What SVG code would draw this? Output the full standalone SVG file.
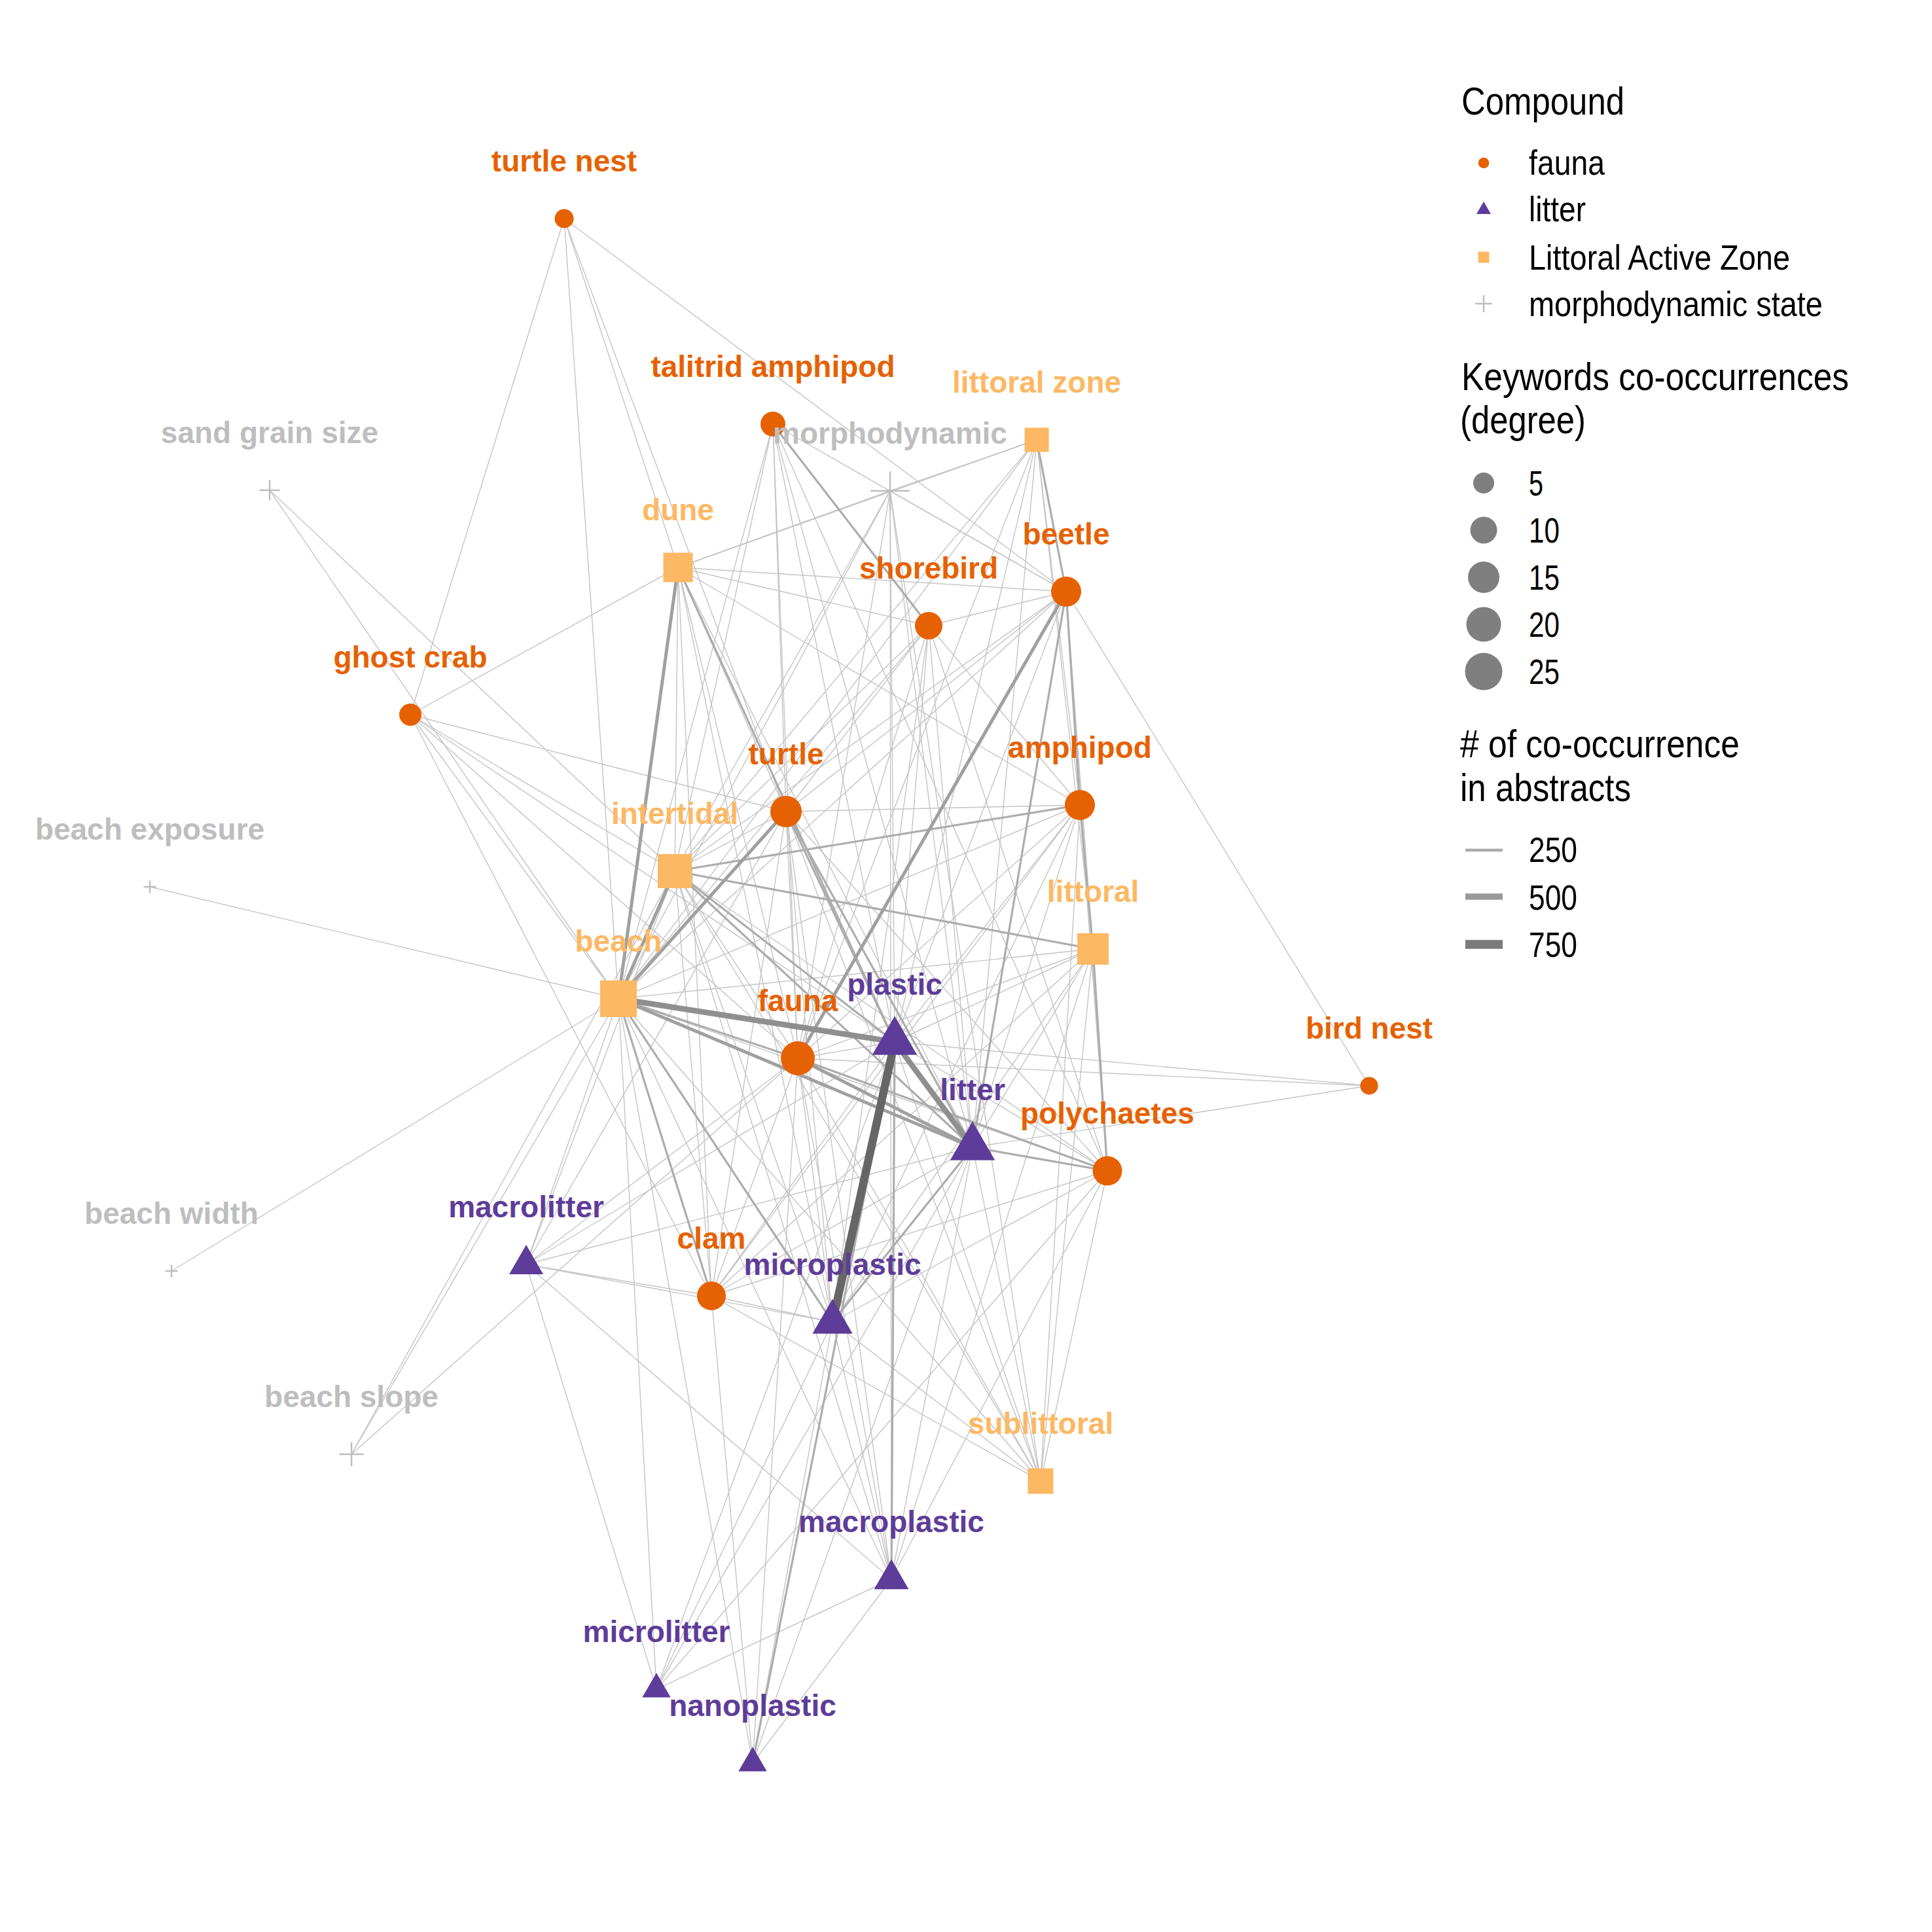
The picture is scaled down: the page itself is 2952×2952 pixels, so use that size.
<svg xmlns="http://www.w3.org/2000/svg" width="2952" height="2952" viewBox="0 0 2952 2952">
<style>
.lbl{font-family:"Liberation Sans",Arial,Helvetica,sans-serif;font-weight:bold;font-size:46px;text-anchor:middle}
.leg{font-family:"Liberation Sans",Arial,Helvetica,sans-serif;fill:#000}
.lt{font-size:60px}
.li{font-size:54px}
.cf{fill:#E66101}
.cl{fill:#5E3C99}
.cz{fill:#FDB863}
.cm{fill:#BEBEBE}
.pm{stroke:#BEBEBE;stroke-width:2.5;fill:none}
.e1{stroke:#C4C4C4;stroke-width:1.4}
.e2{stroke:#ADADAD;stroke-width:3.2}
.e3{stroke:#A0A0A0;stroke-width:5}
.e4{stroke:#8F8F8F;stroke-width:8.5}
.e5{stroke:#666666;stroke-width:12.5}
.dg{fill:#7F7F7F}
</style>
<rect width="2952" height="2952" fill="#FFFFFF"/>
<g id="connectors" fill="none">
<line class="e1" x1="862" y1="334" x2="627" y2="1092"/>
<line class="e1" x1="862" y1="334" x2="945" y2="1526"/>
<line class="e1" x1="862" y1="334" x2="1036" y2="867"/>
<line class="e1" x1="862" y1="334" x2="1201" y2="1240"/>
<line class="e1" x1="862" y1="334" x2="1629" y2="904"/>
<line class="e1" x1="412" y1="749" x2="1031" y2="1331"/>
<line class="e1" x1="412" y1="749" x2="945" y2="1526"/>
<line class="e1" x1="229" y1="1355" x2="945" y2="1526"/>
<line class="e1" x1="262" y1="1942" x2="945" y2="1526"/>
<line class="e1" x1="537" y1="2222" x2="945" y2="1526"/>
<line class="e1" x1="537" y1="2222" x2="1031" y2="1331"/>
<line class="e1" x1="537" y1="2222" x2="1219" y2="1617"/>
<line class="e1" x1="2092" y1="1659" x2="1629" y2="904"/>
<line class="e1" x1="2092" y1="1659" x2="1367" y2="1592"/>
<line class="e1" x1="2092" y1="1659" x2="1219" y2="1617"/>
<line class="e1" x1="2092" y1="1659" x2="1486" y2="1753"/>
<line class="e1" x1="627" y1="1092" x2="1036" y2="867"/>
<line class="e1" x1="627" y1="1092" x2="1201" y2="1240"/>
<line class="e1" x1="627" y1="1092" x2="1031" y2="1331"/>
<line class="e1" x1="627" y1="1092" x2="1367" y2="1592"/>
<line class="e1" x1="627" y1="1092" x2="1219" y2="1617"/>
<line class="e1" x1="627" y1="1092" x2="1087" y2="1980"/>
<line class="e1" x1="627" y1="1092" x2="945" y2="1526"/>
<line class="e1" x1="1181" y1="648" x2="1629" y2="904"/>
<line class="e1" x1="1181" y1="648" x2="1031" y2="1331"/>
<line class="e1" x1="1181" y1="648" x2="945" y2="1526"/>
<line class="e1" x1="1181" y1="648" x2="1201" y2="1240"/>
<line class="e1" x1="1181" y1="648" x2="1219" y2="1617"/>
<line class="e1" x1="1181" y1="648" x2="1367" y2="1592"/>
<line class="e1" x1="1181" y1="648" x2="1486" y2="1753"/>
<line class="e1" x1="1181" y1="648" x2="1692" y2="1789"/>
<line class="e1" x1="1360" y1="750" x2="1584" y2="672"/>
<line class="e1" x1="1360" y1="750" x2="1629" y2="904"/>
<line class="e1" x1="1360" y1="750" x2="945" y2="1526"/>
<line class="e1" x1="1360" y1="750" x2="1031" y2="1331"/>
<line class="e1" x1="1360" y1="750" x2="1219" y2="1617"/>
<line class="e1" x1="1360" y1="750" x2="1367" y2="1592"/>
<line class="e1" x1="1360" y1="750" x2="1486" y2="1753"/>
<line class="e1" x1="1360" y1="750" x2="1590" y2="2263"/>
<line class="e1" x1="1360" y1="750" x2="1362" y2="2413"/>
<line class="e1" x1="1360" y1="750" x2="1036" y2="867"/>
<line class="e1" x1="1584" y1="672" x2="1036" y2="867"/>
<line class="e1" x1="1584" y1="672" x2="1650" y2="1230"/>
<line class="e1" x1="1584" y1="672" x2="1670" y2="1450"/>
<line class="e1" x1="1584" y1="672" x2="945" y2="1526"/>
<line class="e1" x1="1584" y1="672" x2="1031" y2="1331"/>
<line class="e1" x1="1584" y1="672" x2="1219" y2="1617"/>
<line class="e1" x1="1584" y1="672" x2="1367" y2="1592"/>
<line class="e1" x1="1584" y1="672" x2="1486" y2="1753"/>
<line class="e1" x1="1036" y1="867" x2="1031" y2="1331"/>
<line class="e1" x1="1036" y1="867" x2="1201" y2="1240"/>
<line class="e1" x1="1036" y1="867" x2="1219" y2="1617"/>
<line class="e1" x1="1036" y1="867" x2="1486" y2="1753"/>
<line class="e1" x1="1036" y1="867" x2="1650" y2="1230"/>
<line class="e1" x1="1036" y1="867" x2="1419" y2="956"/>
<line class="e1" x1="1036" y1="867" x2="1629" y2="904"/>
<line class="e1" x1="1036" y1="867" x2="1272" y2="2020"/>
<line class="e1" x1="1036" y1="867" x2="1087" y2="1980"/>
<line class="e1" x1="1629" y1="904" x2="1419" y2="956"/>
<line class="e1" x1="1629" y1="904" x2="1367" y2="1592"/>
<line class="e1" x1="1629" y1="904" x2="1670" y2="1450"/>
<line class="e1" x1="1629" y1="904" x2="1692" y2="1789"/>
<line class="e1" x1="1629" y1="904" x2="1031" y2="1331"/>
<line class="e1" x1="1629" y1="904" x2="945" y2="1526"/>
<line class="e1" x1="1629" y1="904" x2="1201" y2="1240"/>
<line class="e1" x1="1419" y1="956" x2="945" y2="1526"/>
<line class="e1" x1="1419" y1="956" x2="1031" y2="1331"/>
<line class="e1" x1="1419" y1="956" x2="1201" y2="1240"/>
<line class="e1" x1="1419" y1="956" x2="1219" y2="1617"/>
<line class="e1" x1="1419" y1="956" x2="1367" y2="1592"/>
<line class="e1" x1="1419" y1="956" x2="1486" y2="1753"/>
<line class="e1" x1="1419" y1="956" x2="1650" y2="1230"/>
<line class="e1" x1="1419" y1="956" x2="1692" y2="1789"/>
<line class="e1" x1="1419" y1="956" x2="1272" y2="2020"/>
<line class="e1" x1="1650" y1="1230" x2="1201" y2="1240"/>
<line class="e1" x1="1650" y1="1230" x2="945" y2="1526"/>
<line class="e1" x1="1650" y1="1230" x2="1219" y2="1617"/>
<line class="e1" x1="1650" y1="1230" x2="1367" y2="1592"/>
<line class="e1" x1="1650" y1="1230" x2="1486" y2="1753"/>
<line class="e1" x1="1650" y1="1230" x2="1692" y2="1789"/>
<line class="e1" x1="1650" y1="1230" x2="1590" y2="2263"/>
<line class="e1" x1="1650" y1="1230" x2="1272" y2="2020"/>
<line class="e1" x1="1650" y1="1230" x2="1087" y2="1980"/>
<line class="e1" x1="1201" y1="1240" x2="1031" y2="1331"/>
<line class="e1" x1="1201" y1="1240" x2="1219" y2="1617"/>
<line class="e1" x1="1201" y1="1240" x2="1272" y2="2020"/>
<line class="e1" x1="1201" y1="1240" x2="1087" y2="1980"/>
<line class="e1" x1="1201" y1="1240" x2="1590" y2="2263"/>
<line class="e1" x1="1201" y1="1240" x2="1692" y2="1789"/>
<line class="e1" x1="1201" y1="1240" x2="1362" y2="2413"/>
<line class="e1" x1="1201" y1="1240" x2="804" y2="1932"/>
<line class="e1" x1="1031" y1="1331" x2="1219" y2="1617"/>
<line class="e1" x1="1031" y1="1331" x2="1272" y2="2020"/>
<line class="e1" x1="1031" y1="1331" x2="1087" y2="1980"/>
<line class="e1" x1="1031" y1="1331" x2="1692" y2="1789"/>
<line class="e1" x1="1031" y1="1331" x2="804" y2="1932"/>
<line class="e1" x1="1031" y1="1331" x2="1362" y2="2413"/>
<line class="e1" x1="1031" y1="1331" x2="1590" y2="2263"/>
<line class="e1" x1="1670" y1="1450" x2="945" y2="1526"/>
<line class="e1" x1="1670" y1="1450" x2="1219" y2="1617"/>
<line class="e1" x1="1670" y1="1450" x2="1367" y2="1592"/>
<line class="e1" x1="1670" y1="1450" x2="1486" y2="1753"/>
<line class="e1" x1="1670" y1="1450" x2="1590" y2="2263"/>
<line class="e1" x1="1670" y1="1450" x2="1272" y2="2020"/>
<line class="e1" x1="1670" y1="1450" x2="1087" y2="1980"/>
<line class="e1" x1="1670" y1="1450" x2="1362" y2="2413"/>
<line class="e1" x1="945" y1="1526" x2="1692" y2="1789"/>
<line class="e1" x1="945" y1="1526" x2="804" y2="1932"/>
<line class="e1" x1="945" y1="1526" x2="1590" y2="2263"/>
<line class="e1" x1="945" y1="1526" x2="1362" y2="2413"/>
<line class="e1" x1="945" y1="1526" x2="1003" y2="2581"/>
<line class="e1" x1="945" y1="1526" x2="1150" y2="2694"/>
<line class="e1" x1="1367" y1="1592" x2="1219" y2="1617"/>
<line class="e1" x1="1367" y1="1592" x2="1003" y2="2581"/>
<line class="e1" x1="1367" y1="1592" x2="804" y2="1932"/>
<line class="e1" x1="1367" y1="1592" x2="1087" y2="1980"/>
<line class="e1" x1="1367" y1="1592" x2="1692" y2="1789"/>
<line class="e1" x1="1367" y1="1592" x2="1590" y2="2263"/>
<line class="e1" x1="1219" y1="1617" x2="1272" y2="2020"/>
<line class="e1" x1="1219" y1="1617" x2="1087" y2="1980"/>
<line class="e1" x1="1219" y1="1617" x2="804" y2="1932"/>
<line class="e1" x1="1219" y1="1617" x2="1362" y2="2413"/>
<line class="e1" x1="1219" y1="1617" x2="1150" y2="2694"/>
<line class="e1" x1="1219" y1="1617" x2="1590" y2="2263"/>
<line class="e1" x1="1486" y1="1753" x2="804" y2="1932"/>
<line class="e1" x1="1486" y1="1753" x2="1362" y2="2413"/>
<line class="e1" x1="1486" y1="1753" x2="1003" y2="2581"/>
<line class="e1" x1="1486" y1="1753" x2="1150" y2="2694"/>
<line class="e1" x1="1486" y1="1753" x2="1087" y2="1980"/>
<line class="e1" x1="1486" y1="1753" x2="1590" y2="2263"/>
<line class="e1" x1="1692" y1="1789" x2="1272" y2="2020"/>
<line class="e1" x1="1692" y1="1789" x2="1590" y2="2263"/>
<line class="e1" x1="1692" y1="1789" x2="1087" y2="1980"/>
<line class="e1" x1="1692" y1="1789" x2="1362" y2="2413"/>
<line class="e1" x1="1692" y1="1789" x2="1003" y2="2581"/>
<line class="e1" x1="804" y1="1932" x2="1087" y2="1980"/>
<line class="e1" x1="804" y1="1932" x2="1272" y2="2020"/>
<line class="e1" x1="804" y1="1932" x2="1003" y2="2581"/>
<line class="e1" x1="804" y1="1932" x2="1362" y2="2413"/>
<line class="e1" x1="1087" y1="1980" x2="1272" y2="2020"/>
<line class="e1" x1="1087" y1="1980" x2="1590" y2="2263"/>
<line class="e1" x1="1272" y1="2020" x2="1362" y2="2413"/>
<line class="e1" x1="1272" y1="2020" x2="1150" y2="2694"/>
<line class="e1" x1="1272" y1="2020" x2="1003" y2="2581"/>
<line class="e1" x1="1272" y1="2020" x2="1590" y2="2263"/>
<line class="e1" x1="1003" y1="2581" x2="1362" y2="2413"/>
<line class="e1" x1="1150" y1="2694" x2="1362" y2="2413"/>
<line class="e1" x1="1150" y1="2694" x2="1087" y2="1980"/>
<line class="e2" x1="1181" y1="648" x2="1419" y2="956"/>
<line class="e2" x1="1584" y1="672" x2="1629" y2="904"/>
<line class="e2" x1="1036" y1="867" x2="1367" y2="1592"/>
<line class="e2" x1="1629" y1="904" x2="1650" y2="1230"/>
<line class="e2" x1="1629" y1="904" x2="1486" y2="1753"/>
<line class="e2" x1="1650" y1="1230" x2="1031" y2="1331"/>
<line class="e2" x1="1650" y1="1230" x2="1670" y2="1450"/>
<line class="e2" x1="1201" y1="1240" x2="1367" y2="1592"/>
<line class="e2" x1="1201" y1="1240" x2="1486" y2="1753"/>
<line class="e2" x1="1031" y1="1331" x2="1670" y2="1450"/>
<line class="e2" x1="1031" y1="1331" x2="1367" y2="1592"/>
<line class="e2" x1="1031" y1="1331" x2="1486" y2="1753"/>
<line class="e2" x1="1670" y1="1450" x2="1692" y2="1789"/>
<line class="e2" x1="945" y1="1526" x2="1219" y2="1617"/>
<line class="e2" x1="945" y1="1526" x2="1087" y2="1980"/>
<line class="e2" x1="945" y1="1526" x2="1272" y2="2020"/>
<line class="e2" x1="1367" y1="1592" x2="1362" y2="2413"/>
<line class="e2" x1="1367" y1="1592" x2="1150" y2="2694"/>
<line class="e2" x1="1219" y1="1617" x2="1692" y2="1789"/>
<line class="e2" x1="1486" y1="1753" x2="1272" y2="2020"/>
<line class="e2" x1="1486" y1="1753" x2="1692" y2="1789"/>
<line class="e3" x1="945" y1="1526" x2="1036" y2="867"/>
<line class="e3" x1="1219" y1="1617" x2="1629" y2="904"/>
<line class="e3" x1="945" y1="1526" x2="1486" y2="1753"/>
<line class="e3" x1="1219" y1="1617" x2="1486" y2="1753"/>
<line class="e3" x1="945" y1="1526" x2="1031" y2="1331"/>
<line class="e3" x1="945" y1="1526" x2="1201" y2="1240"/>
<line class="e4" x1="945" y1="1526" x2="1367" y2="1592"/>
<line class="e4" x1="1367" y1="1592" x2="1486" y2="1753"/>
<line class="e5" x1="1367" y1="1592" x2="1272" y2="2020"/>
</g>
<g id="node-turtle-nest"><circle class="cf" cx="862" cy="334" r="14.5"/><text class="lbl cf" x="862" y="262">turtle nest</text></g>
<g id="node-talitrid-amphipod"><circle class="cf" cx="1181" cy="648" r="19"/><text class="lbl cf" x="1181" y="576">talitrid amphipod</text></g>
<g id="node-littoral-zone"><rect class="cz" x="1565.5" y="653.5" width="37" height="37"/><text class="lbl cz" x="1584" y="600">littoral zone</text></g>
<g id="node-sand-grain-size"><path class="pm" d="M396.5 749H427.5M412 733.5V764.5"/><text class="lbl cm" x="412" y="677">sand grain size</text></g>
<g id="node-dune"><rect class="cz" x="1013.5" y="844.5" width="45" height="45"/><text class="lbl cz" x="1036" y="795">dune</text></g>
<g id="node-beetle"><circle class="cf" cx="1629" cy="904" r="23"/><text class="lbl cf" x="1629" y="832">beetle</text></g>
<g id="node-shorebird"><circle class="cf" cx="1419" cy="956" r="21"/><text class="lbl cf" x="1419" y="884">shorebird</text></g>
<g id="node-ghost-crab"><circle class="cf" cx="627" cy="1092" r="17"/><text class="lbl cf" x="627" y="1020">ghost crab</text></g>
<g id="node-turtle"><circle class="cf" cx="1201" cy="1240" r="24"/><text class="lbl cf" x="1201" y="1168">turtle</text></g>
<g id="node-amphipod"><circle class="cf" cx="1650" cy="1230" r="23"/><text class="lbl cf" x="1650" y="1158">amphipod</text></g>
<g id="node-intertidal"><rect class="cz" x="1005" y="1305" width="52" height="52"/><text class="lbl cz" x="1031" y="1259">intertidal</text></g>
<g id="node-beach-exposure"><path class="pm" d="M219.5 1355H238.5M229 1345.5V1364.5"/><text class="lbl cm" x="229" y="1283">beach exposure</text></g>
<g id="node-littoral"><rect class="cz" x="1646" y="1426" width="48" height="48"/><text class="lbl cz" x="1670" y="1378">littoral</text></g>
<g id="node-beach"><rect class="cz" x="917" y="1498" width="56" height="56"/><text class="lbl cz" x="945" y="1454">beach</text></g>
<g id="node-fauna"><circle class="cf" cx="1219" cy="1617" r="26"/><text class="lbl cf" x="1219" y="1545">fauna</text></g>
<g id="node-plastic"><polygon class="cl" points="1367,1552.5 1401.2,1611.8 1332.8,1611.8"/><text class="lbl cl" x="1367" y="1520">plastic</text></g>
<g id="node-bird-nest"><circle class="cf" cx="2092" cy="1659" r="13.6"/><text class="lbl cf" x="2092" y="1587">bird nest</text></g>
<g id="node-litter"><polygon class="cl" points="1486,1713.5 1520.2,1772.8 1451.8,1772.8"/><text class="lbl cl" x="1486" y="1681">litter</text></g>
<g id="node-polychaetes"><circle class="cf" cx="1692" cy="1789" r="22.5"/><text class="lbl cf" x="1692" y="1717">polychaetes</text></g>
<g id="node-macrolitter"><polygon class="cl" points="804,1902 830,1947 778,1947"/><text class="lbl cl" x="804" y="1860">macrolitter</text></g>
<g id="node-beach-width"><path class="pm" d="M252.5 1942H271.5M262 1932.5V1951.5"/><text class="lbl cm" x="262" y="1870">beach width</text></g>
<g id="node-clam"><circle class="cf" cx="1087" cy="1980" r="22"/><text class="lbl cf" x="1087" y="1908">clam</text></g>
<g id="node-microplastic"><polygon class="cl" points="1272,1984.7 1302.6,2037.7 1241.4,2037.7"/><text class="lbl cl" x="1272" y="1948">microplastic</text></g>
<g id="node-beach-slope"><path class="pm" d="M518.5 2222H555.5M537 2203.5V2240.5"/><text class="lbl cm" x="537" y="2150">beach slope</text></g>
<g id="node-sublittoral"><rect class="cz" x="1570.5" y="2243.5" width="39" height="39"/><text class="lbl cz" x="1590" y="2191">sublittoral</text></g>
<g id="node-macroplastic"><polygon class="cl" points="1362,2382.5 1388.4,2428.3 1335.6,2428.3"/><text class="lbl cl" x="1362" y="2341">macroplastic</text></g>
<g id="node-microlitter"><polygon class="cl" points="1003,2556 1024.7,2593.5 981.3,2593.5"/><text class="lbl cl" x="1003" y="2509">microlitter</text></g>
<g id="node-nanoplastic"><polygon class="cl" points="1150,2669 1171.7,2706.5 1128.3,2706.5"/><text class="lbl cl" x="1150" y="2622">nanoplastic</text></g>
<g id="node-morphodynamic"><path class="pm" d="M1330 750H1390M1360 720V780"/><text class="lbl cm" x="1360" y="678">morphodynamic</text></g>
<g id="legend">
<text class="leg lt" x="2233" y="175" textLength="249" lengthAdjust="spacingAndGlyphs">Compound</text>
<circle class="cf" cx="2267" cy="249" r="8.3"/>
<text class="leg li" x="2336" y="267" textLength="116" lengthAdjust="spacingAndGlyphs">fauna</text>
<polygon class="cl" points="2267,308 2278,327 2256,327"/>
<text class="leg li" x="2336" y="338" textLength="87" lengthAdjust="spacingAndGlyphs">litter</text>
<rect class="cz" x="2258.5" y="384.5" width="17" height="17"/>
<text class="leg li" x="2336" y="412" textLength="399" lengthAdjust="spacingAndGlyphs">Littoral Active Zone</text>
<path class="pm" d="M2254 464H2280M2267 451V477"/>
<text class="leg li" x="2336" y="483" textLength="449" lengthAdjust="spacingAndGlyphs">morphodynamic state</text>
<text class="leg lt" x="2233" y="596" textLength="592" lengthAdjust="spacingAndGlyphs">Keywords co-occurrences</text>
<text class="leg lt" x="2231" y="662" textLength="192" lengthAdjust="spacingAndGlyphs">(degree)</text>
<circle class="dg" cx="2267" cy="738" r="16"/>
<circle class="dg" cx="2267" cy="810" r="20.5"/>
<circle class="dg" cx="2267" cy="882" r="24"/>
<circle class="dg" cx="2267" cy="954" r="26.5"/>
<circle class="dg" cx="2267" cy="1026" r="28.5"/>
<text class="leg li" x="2336" y="757" textLength="22" lengthAdjust="spacingAndGlyphs">5</text>
<text class="leg li" x="2336" y="829" textLength="47" lengthAdjust="spacingAndGlyphs">10</text>
<text class="leg li" x="2336" y="901" textLength="47" lengthAdjust="spacingAndGlyphs">15</text>
<text class="leg li" x="2336" y="973" textLength="47" lengthAdjust="spacingAndGlyphs">20</text>
<text class="leg li" x="2336" y="1045" textLength="47" lengthAdjust="spacingAndGlyphs">25</text>
<text class="leg lt" x="2231" y="1157" textLength="427" lengthAdjust="spacingAndGlyphs"># of co-occurrence</text>
<text class="leg lt" x="2231" y="1224" textLength="261" lengthAdjust="spacingAndGlyphs">in abstracts</text>
<line x1="2239" y1="1299" x2="2296" y2="1299" stroke="#ABABAB" stroke-width="4.7"/>
<line x1="2239" y1="1370" x2="2296" y2="1370" stroke="#999999" stroke-width="9.3"/>
<line x1="2239" y1="1443" x2="2296" y2="1443" stroke="#7A7A7A" stroke-width="13.3"/>
<text class="leg li" x="2336" y="1317" textLength="74" lengthAdjust="spacingAndGlyphs">250</text>
<text class="leg li" x="2336" y="1390" textLength="74" lengthAdjust="spacingAndGlyphs">500</text>
<text class="leg li" x="2336" y="1462" textLength="74" lengthAdjust="spacingAndGlyphs">750</text>
</g>
</svg>
